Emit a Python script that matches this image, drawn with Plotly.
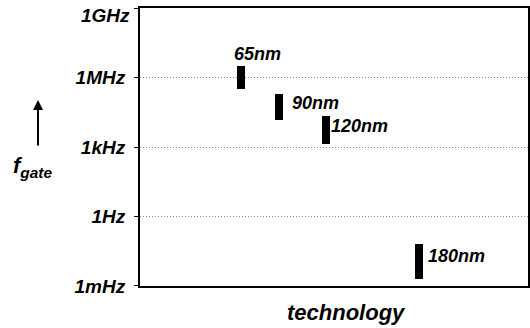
import math
import plotly.graph_objects as go

# Data
nodes_nm = [65, 90, 120, 180]
node_labels = ["65nm", "90nm", "120nm", "180nm"]
f_low_hz = [3.2e5, 1.5e4, 1.35e3, 2.0e-3]
f_high_hz = [3.2e6, 2.0e5, 2.2e4, 6.5e-2]
tick_vals = [1e-3, 1, 1e3, 1e6, 1e9]
tick_text = ["1mHz", "1Hz", "1kHz", "1MHz", "1GHz"]

FONT = "Liberation Sans, Arial, sans-serif"

fig = go.Figure()
fig.add_trace(go.Bar(
    x=nodes_nm,
    base=f_low_hz,
    y=[h - l for h, l in zip(f_high_hz, f_low_hz)],
    width=5.2,
    marker=dict(color="black", line=dict(width=0)),
    showlegend=False,
    hoverinfo="skip",
))

# labels
fig.add_annotation(x=nodes_nm[0], y=math.log10(f_high_hz[0]), xref="x", yref="y",
                   text="<b><i>" + node_labels[0] + "</i></b>", showarrow=False,
                   xanchor="left", yanchor="bottom", xshift=-9, yshift=0,
                   font=dict(family=FONT, size=18, color="black"))
label_dx = [0, 11, 3, 7]
label_dy = [0, 4, 4, 6]
for i in range(1, 4):
    ymid = (math.log10(f_high_hz[i]) + math.log10(f_low_hz[i])) / 2
    fig.add_annotation(x=nodes_nm[i], y=ymid, xref="x", yref="y",
                       text="<b><i>" + node_labels[i] + "</i></b>", showarrow=False,
                       xanchor="left", yanchor="middle", xshift=label_dx[i],
                       yshift=label_dy[i],
                       font=dict(family=FONT, size=18, color="black"))

# top tick label (kept inside the page, just below its tick as in the reference)
fig.add_annotation(xref="paper", yref="y", x=0, y=math.log10(tick_vals[-1]),
                   text="<b><i>" + tick_text[-1] + "</i></b>", showarrow=False,
                   xanchor="right", yanchor="middle", xshift=-8, yshift=-7,
                   font=dict(family=FONT, size=19, color="black"))

# f_gate label
fig.add_annotation(xref="paper", yref="paper", x=(33 - 140) / 388, y=(286 - 167) / 278,
                   text="<b><i>f<sub>gate</sub></i></b>", showarrow=False,
                   xanchor="center", yanchor="middle",
                   font=dict(family=FONT, size=22, color="black"))
fig.add_annotation(xref="paper", yref="paper",
                   x=(38 - 140) / 388, y=(286 - 100) / 278,
                   axref="pixel", ayref="pixel", ax=0, ay=47,
                   text="", showarrow=True, arrowhead=2, arrowsize=1, arrowwidth=2,
                   arrowcolor="black")
fig.add_annotation(xref="paper", yref="paper", x=(346 - 140) / 388, y=(286 - 312) / 278,
                   text="<b><i>technology</i></b>", showarrow=False,
                   xanchor="center", yanchor="middle",
                   font=dict(family=FONT, size=22, color="black"))

fig.update_xaxes(range=[0, 250.5], showticklabels=False, ticks="", showgrid=False,
                 zeroline=False, showline=True, linecolor="black", linewidth=2, mirror=True,
                 automargin=False)
fig.update_yaxes(type="log", range=[-3.0005, 9.0005], tickvals=tick_vals,
                 ticktext=["<b><i>" + t + "</i></b>" for t in tick_text[:-1]] + [""],
                 ticks="outside", ticklen=4, tickwidth=1, tickcolor="black",
                 showgrid=True, gridcolor="#888888", griddash="1px,2px", gridwidth=1,
                 showline=True, linecolor="black", linewidth=2, mirror=True,
                 zeroline=False, ticklabelstandoff=5, ticklabeloverflow="allow",
                 automargin=False,
                 tickfont=dict(family=FONT, size=19, color="black"))

fig.update_layout(width=530, height=328, margin=dict(l=140, r=2, t=8, b=42),
                  plot_bgcolor="white", paper_bgcolor="white", bargap=0,
                  font=dict(family=FONT))
fig.write_html("out.html", config={"displayModeBar": False},
               post_script="document.body.style.margin='0';")
